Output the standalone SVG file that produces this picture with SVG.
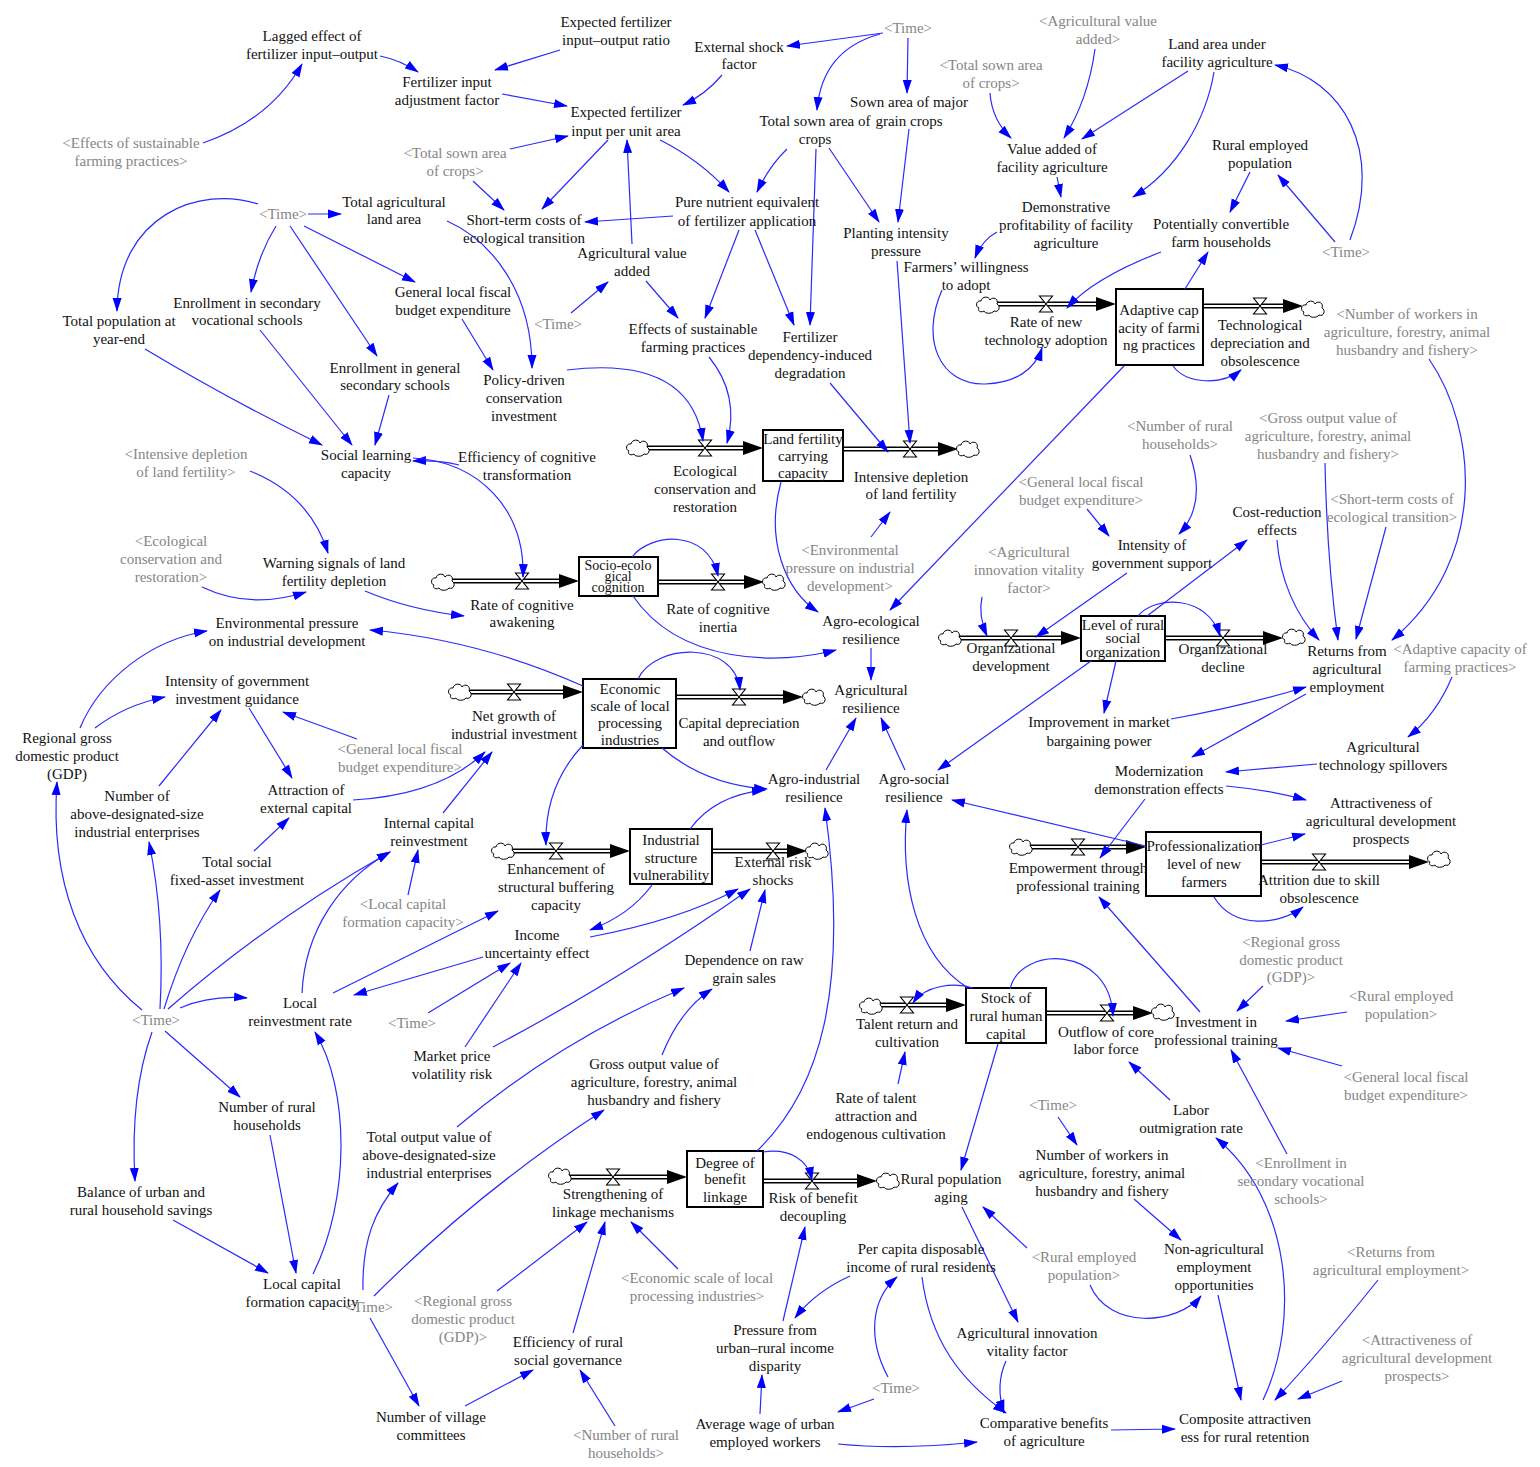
<svg xmlns="http://www.w3.org/2000/svg" width="1540" height="1467" viewBox="0 0 1540 1467">
<style>
.t{font-family:"Liberation Serif","Times New Roman",serif;font-size:15px;fill:#111;text-anchor:middle}
.g{font-family:"Liberation Serif","Times New Roman",serif;font-size:15px;fill:#858585;text-anchor:middle}
.c{fill:none;stroke:#2a2aff;stroke-width:1.2;marker-end:url(#ah)}
.po{stroke:#000;stroke-width:5;fill:none}
.pi{stroke:#fff;stroke-width:2.2;fill:none}
.fa{fill:#000}
.box{fill:#fff;stroke:#000;stroke-width:2}
</style>
<defs>
<marker id="ah" viewBox="0 0 14 10" refX="13" refY="5" markerWidth="14" markerHeight="10" markerUnits="userSpaceOnUse" orient="auto"><path d="M0,0.5 L14,5 L0,9.5 Z" fill="#0000ff"/></marker>
<g id="cloud"><path d="M-9,3 C-13,2 -12,-5 -7,-4 C-6,-9 1,-9 2,-5 C5,-9 11,-6 9,-1 C13,1 11,8 6,6 C4,9 -3,9 -4,6 C-7,8 -11,6 -9,3 Z" fill="#fff" stroke="#000" stroke-width="1"/></g>
<g id="valve"><path d="M-6.5,-8 H6.5 L-6.5,8 H6.5 Z" fill="#fff" stroke="#000" stroke-width="1.1"/></g>
</defs>
<rect width="1540" height="1467" fill="#fff"/>

<!-- flows (pipes, valves, clouds) -->
<g id="flows">
<g id="f-land">
<path class="po" d="M647,448 H745"/><path class="pi" d="M647,448 H745"/><polygon class="fa" points="743,441 763,448 743,455"/>
<path class="po" d="M843,449 H940"/><path class="pi" d="M843,449 H940"/><polygon class="fa" points="938,442 958,449 938,456"/>
<use href="#cloud" x="638" y="448"/><use href="#cloud" x="968" y="449"/>
<use href="#valve" x="705" y="448"/><use href="#valve" x="910" y="449"/>
</g>
<g id="f-adaptive">
<path class="po" d="M997,304 H1098"/><path class="pi" d="M997,304 H1098"/><polygon class="fa" points="1096,297 1116,304 1096,311"/>
<path class="po" d="M1203,306 H1285"/><path class="pi" d="M1203,306 H1285"/><polygon class="fa" points="1283,299 1303,306 1283,313"/>
<use href="#cloud" x="988" y="305"/><use href="#cloud" x="1313" y="309"/>
<use href="#valve" x="1046" y="304"/><use href="#valve" x="1260" y="306"/>
</g>
<g id="f-cognition">
<path class="po" d="M452,581 H561"/><path class="pi" d="M452,581 H561"/><polygon class="fa" points="559,574 579,581 559,588"/>
<path class="po" d="M658,582 H746"/><path class="pi" d="M658,582 H746"/><polygon class="fa" points="744,575 764,582 744,589"/>
<use href="#cloud" x="443" y="582"/><use href="#cloud" x="774" y="582"/>
<use href="#valve" x="522" y="581"/><use href="#valve" x="718" y="582"/>
</g>
<g id="f-econ">
<path class="po" d="M469,692 H565"/><path class="pi" d="M469,692 H565"/><polygon class="fa" points="563,685 583,692 563,699"/>
<path class="po" d="M676,697 H785"/><path class="pi" d="M676,697 H785"/><polygon class="fa" points="783,690 803,697 783,704"/>
<use href="#cloud" x="460" y="692"/><use href="#cloud" x="814" y="697"/>
<use href="#valve" x="514" y="692"/><use href="#valve" x="739" y="697"/>
</g>
<g id="f-org">
<path class="po" d="M959,638 H1063"/><path class="pi" d="M959,638 H1063"/><polygon class="fa" points="1061,631 1081,638 1061,645"/>
<path class="po" d="M1165,638 H1265"/><path class="pi" d="M1165,638 H1265"/><polygon class="fa" points="1263,631 1283,638 1263,645"/>
<use href="#cloud" x="950" y="638"/><use href="#cloud" x="1294" y="637"/>
<use href="#valve" x="1011" y="638"/><use href="#valve" x="1223" y="638"/>
</g>
<g id="f-ind">
<path class="po" d="M512,851 H612"/><path class="pi" d="M512,851 H612"/><polygon class="fa" points="610,844 630,851 610,858"/>
<path class="po" d="M712,851 H789"/><path class="pi" d="M712,851 H789"/><polygon class="fa" points="787,844 807,851 787,858"/>
<use href="#cloud" x="503" y="851"/><use href="#cloud" x="817" y="851"/>
<use href="#valve" x="556" y="851"/><use href="#valve" x="773" y="851"/>
</g>
<g id="f-prof">
<path class="po" d="M1030,847 H1128"/><path class="pi" d="M1030,847 H1128"/><polygon class="fa" points="1126,840 1146,847 1126,854"/>
<path class="po" d="M1261,862 H1411"/><path class="pi" d="M1261,862 H1411"/><polygon class="fa" points="1409,855 1429,862 1409,869"/>
<use href="#cloud" x="1021" y="847"/><use href="#cloud" x="1439" y="859"/>
<use href="#valve" x="1078" y="847"/><use href="#valve" x="1319" y="862"/>
</g>
<g id="f-benefit">
<path class="po" d="M569,1177 H669"/><path class="pi" d="M569,1177 H669"/><polygon class="fa" points="667,1170 687,1177 667,1184"/>
<path class="po" d="M763,1181 H859"/><path class="pi" d="M763,1181 H859"/><polygon class="fa" points="857,1174 877,1181 857,1188"/>
<use href="#cloud" x="560" y="1176"/><use href="#cloud" x="888" y="1181"/>
<use href="#valve" x="613" y="1177"/><use href="#valve" x="812" y="1181"/>
</g>
<g id="f-human">
<path class="po" d="M880,1005 H948"/><path class="pi" d="M880,1005 H948"/><polygon class="fa" points="946,998 966,1005 946,1012"/>
<path class="po" d="M1046,1013 H1135"/><path class="pi" d="M1046,1013 H1135"/><polygon class="fa" points="1133,1006 1153,1013 1133,1020"/>
<use href="#cloud" x="871" y="1006"/><use href="#cloud" x="1163" y="1012"/>
<use href="#valve" x="907" y="1005"/><use href="#valve" x="1107" y="1013"/>
</g>
</g>

<!-- stocks -->
<g id="s-land"><rect class="box" x="763" y="430" width="80" height="51"/><text class="t" x="803" y="444"><tspan x="803">Land fertility</tspan><tspan x="803" dy="17">carrying</tspan><tspan x="803" dy="17">capacity</tspan></text></g>
<g id="s-adaptive"><rect class="box" x="1116" y="289" width="87" height="76"/><text class="t" x="1159" y="315"><tspan x="1159">Adaptive cap</tspan><tspan x="1159" dy="18">acity of farmi</tspan><tspan x="1159" dy="17">ng practices</tspan></text></g>
<g id="s-cognition"><rect class="box" x="579" y="557" width="79" height="39"/><text class="t" x="618" y="570" style="font-size:14px"><tspan x="618">Socio-ecolo</tspan><tspan x="618" dy="11">gical</tspan><tspan x="618" dy="11">cognition</tspan></text></g>
<g id="s-econ"><rect class="box" x="583" y="679" width="93" height="69"/><text class="t" x="630" y="694"><tspan x="630">Economic</tspan><tspan x="630" dy="17">scale of local</tspan><tspan x="630" dy="17">processing</tspan><tspan x="630" dy="17">industries</tspan></text></g>
<g id="s-org"><rect class="box" x="1081" y="616" width="84" height="45"/><text class="t" x="1123" y="630"><tspan x="1123">Level of rural</tspan><tspan x="1123" dy="13">social</tspan><tspan x="1123" dy="14">organization</tspan></text></g>
<g id="s-ind"><rect class="box" x="630" y="829" width="82" height="55"/><text class="t" x="671" y="845"><tspan x="671">Industrial</tspan><tspan x="671" dy="18">structure</tspan><tspan x="671" dy="17">vulnerability</tspan></text></g>
<g id="s-prof"><rect class="box" x="1146" y="832" width="115" height="64"/><text class="t" x="1204" y="851"><tspan x="1204">Professionalization</tspan><tspan x="1204" dy="18">level of new</tspan><tspan x="1204" dy="18">farmers</tspan></text></g>
<g id="s-benefit"><rect class="box" x="687" y="1151" width="76" height="56"/><text class="t" x="725" y="1168"><tspan x="725">Degree of</tspan><tspan x="725" dy="16">benefit</tspan><tspan x="725" dy="18">linkage</tspan></text></g>
<g id="s-human"><rect class="box" x="966" y="988" width="80" height="55"/><text class="t" x="1006" y="1003"><tspan x="1006">Stock of</tspan><tspan x="1006" dy="18">rural human</tspan><tspan x="1006" dy="18">capital</tspan></text></g>

<!-- connectors -->
<g id="connectors">
<path class="c" d="M380,56 Q400,60 418,72"/>
<path class="c" d="M203,143 Q270,120 302,64"/>
<path class="c" d="M560,50 L495,70"/>
<path class="c" d="M502,94 L567,106"/>
<path class="c" d="M722,75 Q705,95 683,105"/>
<path class="c" d="M883,33 L787,46"/>
<path class="c" d="M510,149 L568,136"/>
<path class="c" d="M473,181 L504,210"/>
<path class="c" d="M608,140 L542,209"/>
<path class="c" d="M632,244 L627,140"/>
<path class="c" d="M660,140 Q700,160 729,192"/>
<path class="c" d="M673,216 L585,222"/>
<path class="c" d="M787,149 Q770,165 757,192"/>
<path class="c" d="M880,34 Q822,50 817,110"/>
<path class="c" d="M908,38 L907,93"/>
<path class="c" d="M816,149 Q813,240 810,325"/>
<path class="c" d="M829,148 L879,222"/>
<path class="c" d="M909,129 L898,222"/>
<path class="c" d="M739,230 L705,318"/>
<path class="c" d="M755,230 L794,325"/>
<path class="c" d="M646,281 L678,318"/>
<path class="c" d="M571,313 L608,282"/>
<path class="c" d="M447,221 C490,240 532,290 532,368"/>
<path class="c" d="M308,214 L341,214"/>
<path class="c" d="M258,204 C200,185 118,215 117,311"/>
<path class="c" d="M276,226 Q258,255 251,292"/>
<path class="c" d="M290,226 L377,356"/>
<path class="c" d="M304,226 L415,282"/>
<path class="c" d="M462,319 L493,370"/>
<path class="c" d="M145,349 Q230,400 322,445"/>
<path class="c" d="M260,330 L352,445"/>
<path class="c" d="M389,395 L375,445"/>
<path class="c" d="M459,465 Q440,460 413,461"/>
<path class="c" d="M413,458 C480,462 525,510 523,577"/>
<path class="c" d="M250,471 Q310,495 328,553"/>
<path class="c" d="M202,587 Q250,610 306,592"/>
<path class="c" d="M365,591 Q410,610 464,616"/>
<path class="c" d="M567,370 Q690,355 703,441"/>
<path class="c" d="M709,357 Q740,395 727,443"/>
<path class="c" d="M830,383 L888,452"/>
<path class="c" d="M897,261 L910,443"/>
<path class="c" d="M871,537 L890,512"/>
<path class="c" d="M781,482 C765,540 785,590 818,612"/>
<path class="c" d="M1124,366 L890,610"/>
<path class="c" d="M633,596 C680,665 780,665 836,650"/>
<path class="c" d="M632,557 C650,533 708,528 718,576"/>
<path class="c" d="M871,648 L871,680"/>
<path class="c" d="M826,770 L856,718"/>
<path class="c" d="M905,770 L881,718"/>
<path class="c" d="M638,679 C655,643 735,640 740,690"/>
<path class="c" d="M583,686 Q480,640 370,630"/>
<path class="c" d="M662,748 Q705,785 767,789"/>
<path class="c" d="M583,745 C555,775 545,810 546,845"/>
<path class="c" d="M690,829 Q715,795 765,790"/>
<path class="c" d="M652,885 Q630,915 590,930"/>
<path class="c" d="M590,937 Q680,920 738,889"/>
<path class="c" d="M493,1047 Q620,980 750,889"/>
<path class="c" d="M750,951 L765,890"/>
<path class="c" d="M465,1047 L521,963"/>
<path class="c" d="M428,1013 L510,963"/>
<path class="c" d="M483,957 L354,995"/>
<path class="c" d="M333,993 L498,911"/>
<path class="c" d="M302,993 C305,930 340,880 390,852"/>
<path class="c" d="M408,895 L418,850"/>
<path class="c" d="M443,813 L492,752"/>
<path class="c" d="M353,800 Q440,795 485,752"/>
<path class="c" d="M249,708 L292,778"/>
<path class="c" d="M357,739 L283,712"/>
<path class="c" d="M95,728 Q125,705 165,697"/>
<path class="c" d="M80,728 C100,680 150,640 207,631"/>
<path class="c" d="M159,786 L221,710"/>
<path class="c" d="M254,851 L289,818"/>
<path class="c" d="M142,1010 C80,960 50,880 57,782"/>
<path class="c" d="M160,1009 Q165,920 149,842"/>
<path class="c" d="M164,1009 Q185,940 220,890"/>
<path class="c" d="M168,1009 Q270,920 390,852"/>
<path class="c" d="M180,1008 Q210,995 247,998"/>
<path class="c" d="M165,1031 L240,1097"/>
<path class="c" d="M152,1032 C135,1080 132,1130 135,1181"/>
<path class="c" d="M270,1135 L296,1273"/>
<path class="c" d="M173,1220 L268,1273"/>
<path class="c" d="M313,1274 C350,1200 350,1090 315,1032"/>
<path class="c" d="M363,1290 C362,1240 375,1210 398,1183"/>
<path class="c" d="M374,1296 Q480,1190 604,1110"/>
<path class="c" d="M370,1318 L419,1406"/>
<path class="c" d="M457,1127 Q560,1040 684,988"/>
<path class="c" d="M662,1055 Q680,1010 712,989"/>
<path class="c" d="M757,1151 C820,1090 850,990 825,808"/>
<path class="c" d="M763,1152 C790,1148 808,1160 812,1180"/>
<path class="c" d="M497,1291 L587,1222"/>
<path class="c" d="M573,1333 L605,1222"/>
<path class="c" d="M678,1269 L631,1222"/>
<path class="c" d="M465,1406 L533,1370"/>
<path class="c" d="M615,1426 L580,1370"/>
<path class="c" d="M783,1321 L805,1227"/>
<path class="c" d="M850,1276 Q815,1292 795,1318"/>
<path class="c" d="M760,1414 L762,1375"/>
<path class="c" d="M874,1399 L838,1412"/>
<path class="c" d="M888,1377 C868,1340 870,1300 897,1277"/>
<path class="c" d="M838,1444 Q900,1450 977,1442"/>
<path class="c" d="M922,1277 C930,1340 960,1380 1006,1413"/>
<path class="c" d="M1006,1361 Q995,1385 1004,1413"/>
<path class="c" d="M962,1207 L1018,1322"/>
<path class="c" d="M1027,1248 L983,1207"/>
<path class="c" d="M998,1044 L961,1170"/>
<path class="c" d="M1111,1430 L1175,1429"/>
<path class="c" d="M1218,1295 L1241,1400"/>
<path class="c" d="M1090,1285 C1109,1330 1177,1325 1201,1296"/>
<path class="c" d="M1134,1199 L1181,1240"/>
<path class="c" d="M1058,1117 L1077,1145"/>
<path class="c" d="M1378,1280 Q1322,1350 1275,1400"/>
<path class="c" d="M1342,1381 L1298,1399"/>
<path class="c" d="M1263,1400 C1301,1320 1291,1200 1216,1138"/>
<path class="c" d="M1170,1100 L1129,1062"/>
<path class="c" d="M1287,1154 L1231,1050"/>
<path class="c" d="M1342,1066 L1278,1048"/>
<path class="c" d="M1347,1012 L1286,1021"/>
<path class="c" d="M1263,986 L1237,1011"/>
<path class="c" d="M1200,1012 L1099,897"/>
<path class="c" d="M973,988 C955,982 925,985 913,1003"/>
<path class="c" d="M1010,989 C1020,945 1110,945 1113,1016"/>
<path class="c" d="M898,1084 L905,1052"/>
<path class="c" d="M968,988 C915,955 900,880 907,810"/>
<path class="c" d="M1146,846 L952,800"/>
<path class="c" d="M1091,661 L938,770"/>
<path class="c" d="M1116,661 L1104,713"/>
<path class="c" d="M1147,616 L1247,540"/>
<path class="c" d="M1138,616 C1155,595 1208,595 1220,636"/>
<path class="c" d="M1127,573 L1036,637"/>
<path class="c" d="M1087,509 L1109,536"/>
<path class="c" d="M1190,455 C1202,490 1197,515 1179,534"/>
<path class="c" d="M982,597 Q978,615 987,636"/>
<path class="c" d="M1277,540 C1280,580 1296,615 1319,640"/>
<path class="c" d="M1325,463 Q1327,560 1338,640"/>
<path class="c" d="M1386,527 L1356,639"/>
<path class="c" d="M1429,359 C1478,430 1488,560 1392,640"/>
<path class="c" d="M1171,719 Q1239,707 1306,687"/>
<path class="c" d="M1306,694 L1192,757"/>
<path class="c" d="M1452,677 Q1436,715 1408,737"/>
<path class="c" d="M1317,764 L1226,772"/>
<path class="c" d="M1226,786 Q1270,790 1306,800"/>
<path class="c" d="M1261,845 L1305,834"/>
<path class="c" d="M1145,799 L1100,858"/>
<path class="c" d="M1214,897 C1234,930 1280,925 1303,907"/>
<path class="c" d="M1173,366 C1187,385 1223,385 1241,370"/>
<path class="c" d="M1185,289 L1208,252"/>
<path class="c" d="M1161,252 C1114,270 1083,290 1067,308"/>
<path class="c" d="M942,290 C920,340 940,385 985,384 C1015,383 1035,370 1042,348"/>
<path class="c" d="M997,232 Q982,240 975,258"/>
<path class="c" d="M1057,177 L1061,197"/>
<path class="c" d="M1188,71 L1082,139"/>
<path class="c" d="M1214,72 C1206,120 1177,170 1133,197"/>
<path class="c" d="M1095,49 Q1088,100 1064,138"/>
<path class="c" d="M990,93 Q992,120 1011,138"/>
<path class="c" d="M1250,172 L1230,212"/>
<path class="c" d="M1335,242 L1278,175"/>
<path class="c" d="M1350,240 C1384,150 1343,80 1275,65"/>
</g>

<!-- flow labels -->
<g id="fl-eco"><text class="t" x="705" y="476"><tspan x="705">Ecological</tspan><tspan x="705" dy="18">conservation and</tspan><tspan x="705" dy="18">restoration</tspan></text></g>
<g id="fl-intensive"><text class="t" x="911" y="482"><tspan x="911">Intensive depletion</tspan><tspan x="911" dy="17">of land fertility</tspan></text></g>
<g id="fl-newtech"><text class="t" x="1046" y="327"><tspan x="1046">Rate of new</tspan><tspan x="1046" dy="18">technology adoption</tspan></text></g>
<g id="fl-techdep"><text class="t" x="1260" y="330"><tspan x="1260">Technological</tspan><tspan x="1260" dy="18">depreciation and</tspan><tspan x="1260" dy="18">obsolescence</tspan></text></g>
<g id="fl-awaken"><text class="t" x="522" y="610"><tspan x="522">Rate of cognitive</tspan><tspan x="522" dy="17">awakening</tspan></text></g>
<g id="fl-inertia"><text class="t" x="718" y="614"><tspan x="718">Rate of cognitive</tspan><tspan x="718" dy="18">inertia</tspan></text></g>
<g id="fl-netgrowth"><text class="t" x="514" y="721"><tspan x="514">Net growth of</tspan><tspan x="514" dy="18">industrial investment</tspan></text></g>
<g id="fl-capdep"><text class="t" x="739" y="728"><tspan x="739">Capital depreciation</tspan><tspan x="739" dy="18">and outflow</tspan></text></g>
<g id="fl-orgdev"><text class="t" x="1011" y="653"><tspan x="1011">Organizational</tspan><tspan x="1011" dy="18">development</tspan></text></g>
<g id="fl-orgdec"><text class="t" x="1223" y="654"><tspan x="1223">Organizational</tspan><tspan x="1223" dy="18">decline</tspan></text></g>
<g id="fl-enh"><text class="t" x="556" y="874"><tspan x="556">Enhancement of</tspan><tspan x="556" dy="18">structural buffering</tspan><tspan x="556" dy="18">capacity</tspan></text></g>
<g id="fl-extrisk"><text class="t" x="773" y="867"><tspan x="773">External risk</tspan><tspan x="773" dy="18">shocks</tspan></text></g>
<g id="fl-empower"><text class="t" x="1078" y="873"><tspan x="1078">Empowerment through</tspan><tspan x="1078" dy="18">professional training</tspan></text></g>
<g id="fl-attrition"><text class="t" x="1319" y="885"><tspan x="1319">Attrition due to skill</tspan><tspan x="1319" dy="18">obsolescence</tspan></text></g>
<g id="fl-strength"><text class="t" x="613" y="1199"><tspan x="613">Strengthening of</tspan><tspan x="613" dy="18">linkage mechanisms</tspan></text></g>
<g id="fl-risk"><text class="t" x="813" y="1203"><tspan x="813">Risk of benefit</tspan><tspan x="813" dy="18">decoupling</tspan></text></g>
<g id="fl-talent"><text class="t" x="907" y="1029"><tspan x="907">Talent return and</tspan><tspan x="907" dy="18">cultivation</tspan></text></g>
<g id="fl-outflow"><text class="t" x="1106" y="1037"><tspan x="1106">Outflow of core</tspan><tspan x="1106" dy="17">labor force</tspan></text></g>

<!-- variable nodes -->
<g id="n-lagged"><text class="t" x="312" y="41"><tspan x="312">Lagged effect of</tspan><tspan x="312" dy="18">fertilizer input–output</tspan></text></g>
<g id="n-effects-sh"><text class="g" x="131" y="148"><tspan x="131">&lt;Effects of sustainable</tspan><tspan x="131" dy="18">farming practices&gt;</tspan></text></g>
<g id="n-fertadj"><text class="t" x="447" y="87"><tspan x="447">Fertilizer input</tspan><tspan x="447" dy="18">adjustment factor</tspan></text></g>
<g id="n-expratio"><text class="t" x="616" y="27"><tspan x="616">Expected fertilizer</tspan><tspan x="616" dy="18">input–output ratio</tspan></text></g>
<g id="n-extshock"><text class="t" x="739" y="52"><tspan x="739">External shock</tspan><tspan x="739" dy="17">factor</tspan></text></g>
<g id="n-time1"><text class="g" x="908" y="33">&lt;Time&gt;</text></g>
<g id="n-expunit"><text class="t" x="626" y="117"><tspan x="626">Expected fertilizer</tspan><tspan x="626" dy="19">input per unit area</tspan></text></g>
<g id="n-tsa-sh1"><text class="g" x="455" y="158"><tspan x="455">&lt;Total sown area</tspan><tspan x="455" dy="18">of crops&gt;</tspan></text></g>
<g id="n-totalsown"><text class="t" x="815" y="126"><tspan x="815">Total sown area of</tspan><tspan x="815" dy="18">crops</tspan></text></g>
<g id="n-sowngrain"><text class="t" x="909" y="107"><tspan x="909">Sown area of major</tspan><tspan x="909" dy="19">grain crops</tspan></text></g>
<g id="n-tsa-sh2"><text class="g" x="991" y="70"><tspan x="991">&lt;Total sown area</tspan><tspan x="991" dy="18">of crops&gt;</tspan></text></g>
<g id="n-agva-sh"><text class="g" x="1098" y="26"><tspan x="1098">&lt;Agricultural value</tspan><tspan x="1098" dy="18">added&gt;</tspan></text></g>
<g id="n-landfac"><text class="t" x="1217" y="49"><tspan x="1217">Land area under</tspan><tspan x="1217" dy="18">facility agriculture</tspan></text></g>
<g id="n-vafac"><text class="t" x="1052" y="154"><tspan x="1052">Value added of</tspan><tspan x="1052" dy="18">facility agriculture</tspan></text></g>
<g id="n-ruralemp"><text class="t" x="1260" y="150"><tspan x="1260">Rural employed</tspan><tspan x="1260" dy="18">population</tspan></text></g>
<g id="n-demo"><text class="t" x="1066" y="212"><tspan x="1066">Demonstrative</tspan><tspan x="1066" dy="18">profitability of facility</tspan><tspan x="1066" dy="18">agriculture</tspan></text></g>
<g id="n-potential"><text class="t" x="1221" y="229"><tspan x="1221">Potentially convertible</tspan><tspan x="1221" dy="18">farm households</tspan></text></g>
<g id="n-time2"><text class="g" x="1346" y="257">&lt;Time&gt;</text></g>
<g id="n-time3"><text class="g" x="283" y="219">&lt;Time&gt;</text></g>
<g id="n-totalland"><text class="t" x="394" y="207"><tspan x="394">Total agricultural</tspan><tspan x="394" dy="17">land area</tspan></text></g>
<g id="n-shortterm"><text class="t" x="524" y="225"><tspan x="524">Short-term costs of</tspan><tspan x="524" dy="18">ecological transition</tspan></text></g>
<g id="n-purenut"><text class="t" x="747" y="207"><tspan x="747">Pure nutrient equivalent</tspan><tspan x="747" dy="19">of fertilizer application</tspan></text></g>
<g id="n-agva"><text class="t" x="632" y="258"><tspan x="632">Agricultural value</tspan><tspan x="632" dy="18">added</tspan></text></g>
<g id="n-planting"><text class="t" x="896" y="238"><tspan x="896">Planting intensity</tspan><tspan x="896" dy="18">pressure</tspan></text></g>
<g id="n-farmers"><text class="t" x="966" y="272"><tspan x="966">Farmers’ willingness</tspan><tspan x="966" dy="18">to adopt</tspan></text></g>
<g id="n-enrollvoc"><text class="t" x="247" y="308"><tspan x="247">Enrollment in secondary</tspan><tspan x="247" dy="17">vocational schools</tspan></text></g>
<g id="n-totalpop"><text class="t" x="119" y="326"><tspan x="119">Total population at</tspan><tspan x="119" dy="18">year-end</tspan></text></g>
<g id="n-glf"><text class="t" x="453" y="297"><tspan x="453">General local fiscal</tspan><tspan x="453" dy="18">budget expenditure</tspan></text></g>
<g id="n-time4"><text class="g" x="558" y="329">&lt;Time&gt;</text></g>
<g id="n-effects"><text class="t" x="693" y="334"><tspan x="693">Effects of sustainable</tspan><tspan x="693" dy="18">farming practices</tspan></text></g>
<g id="n-fertdep"><text class="t" x="810" y="342"><tspan x="810">Fertilizer</tspan><tspan x="810" dy="18">dependency-induced</tspan><tspan x="810" dy="18">degradation</tspan></text></g>
<g id="n-enrollgen"><text class="t" x="395" y="373"><tspan x="395">Enrollment in general</tspan><tspan x="395" dy="17">secondary schools</tspan></text></g>
<g id="n-policy"><text class="t" x="524" y="385"><tspan x="524">Policy-driven</tspan><tspan x="524" dy="18">conservation</tspan><tspan x="524" dy="18">investment</tspan></text></g>
<g id="n-social"><text class="t" x="366" y="460"><tspan x="366">Social learning</tspan><tspan x="366" dy="18">capacity</tspan></text></g>
<g id="n-intensive-sh"><text class="g" x="186" y="459"><tspan x="186">&lt;Intensive depletion</tspan><tspan x="186" dy="18">of land fertility&gt;</tspan></text></g>
<g id="n-effcog"><text class="t" x="527" y="462"><tspan x="527">Efficiency of cognitive</tspan><tspan x="527" dy="18">transformation</tspan></text></g>
<g id="n-workers-sh"><text class="g" x="1407" y="319"><tspan x="1407">&lt;Number of workers in</tspan><tspan x="1407" dy="18">agriculture, forestry, animal</tspan><tspan x="1407" dy="18">husbandry and fishery&gt;</tspan></text></g>
<g id="n-ruralhh-sh1"><text class="g" x="1180" y="431"><tspan x="1180">&lt;Number of rural</tspan><tspan x="1180" dy="18">households&gt;</tspan></text></g>
<g id="n-gross-sh"><text class="g" x="1328" y="423"><tspan x="1328">&lt;Gross output value of</tspan><tspan x="1328" dy="18">agriculture, forestry, animal</tspan><tspan x="1328" dy="18">husbandry and fishery&gt;</tspan></text></g>
<g id="n-glf-sh1"><text class="g" x="1081" y="487"><tspan x="1081">&lt;General local fiscal</tspan><tspan x="1081" dy="18">budget expenditure&gt;</tspan></text></g>
<g id="n-costred"><text class="t" x="1277" y="517"><tspan x="1277">Cost-reduction</tspan><tspan x="1277" dy="18">effects</tspan></text></g>
<g id="n-st-sh"><text class="g" x="1392" y="504"><tspan x="1392">&lt;Short-term costs of</tspan><tspan x="1392" dy="18">ecological transition&gt;</tspan></text></g>
<g id="n-intgov"><text class="t" x="1152" y="550"><tspan x="1152">Intensity of</tspan><tspan x="1152" dy="18">government support</tspan></text></g>
<g id="n-innov-sh"><text class="g" x="1029" y="557"><tspan x="1029">&lt;Agricultural</tspan><tspan x="1029" dy="18">innovation vitality</tspan><tspan x="1029" dy="18">factor&gt;</tspan></text></g>
<g id="n-env-sh"><text class="g" x="850" y="555"><tspan x="850">&lt;Environmental</tspan><tspan x="850" dy="18">pressure on industrial</tspan><tspan x="850" dy="18">development&gt;</tspan></text></g>
<g id="n-eco-sh"><text class="g" x="171" y="546"><tspan x="171">&lt;Ecological</tspan><tspan x="171" dy="18">conservation and</tspan><tspan x="171" dy="18">restoration&gt;</tspan></text></g>
<g id="n-warning"><text class="t" x="334" y="568"><tspan x="334">Warning signals of land</tspan><tspan x="334" dy="18">fertility depletion</tspan></text></g>
<g id="n-agroeco"><text class="t" x="871" y="626"><tspan x="871">Agro-ecological</tspan><tspan x="871" dy="18">resilience</tspan></text></g>
<g id="n-envpress"><text class="t" x="287" y="628"><tspan x="287">Environmental pressure</tspan><tspan x="287" dy="18">on industrial development</tspan></text></g>
<g id="n-returns"><text class="t" x="1347" y="656"><tspan x="1347">Returns from</tspan><tspan x="1347" dy="18">agricultural</tspan><tspan x="1347" dy="18">employment</tspan></text></g>
<g id="n-adaptive-sh"><text class="g" x="1460" y="654"><tspan x="1460">&lt;Adaptive capacity of</tspan><tspan x="1460" dy="18">farming practices&gt;</tspan></text></g>
<g id="n-intgovinv"><text class="t" x="237" y="686"><tspan x="237">Intensity of government</tspan><tspan x="237" dy="18">investment guidance</tspan></text></g>
<g id="n-agrires"><text class="t" x="871" y="695"><tspan x="871">Agricultural</tspan><tspan x="871" dy="18">resilience</tspan></text></g>
<g id="n-gdp"><text class="t" x="67" y="743"><tspan x="67">Regional gross</tspan><tspan x="67" dy="18">domestic product</tspan><tspan x="67" dy="18">(GDP)</tspan></text></g>
<g id="n-glf-sh2"><text class="g" x="400" y="754"><tspan x="400">&lt;General local fiscal</tspan><tspan x="400" dy="18">budget expenditure&gt;</tspan></text></g>
<g id="n-improve"><text class="t" x="1099" y="727"><tspan x="1099">Improvement in market</tspan><tspan x="1099" dy="19">bargaining power</tspan></text></g>
<g id="n-agritech"><text class="t" x="1383" y="752"><tspan x="1383">Agricultural</tspan><tspan x="1383" dy="18">technology spillovers</tspan></text></g>
<g id="n-modern"><text class="t" x="1159" y="776"><tspan x="1159">Modernization</tspan><tspan x="1159" dy="18">demonstration effects</tspan></text></g>
<g id="n-agroind"><text class="t" x="814" y="784"><tspan x="814">Agro-industrial</tspan><tspan x="814" dy="18">resilience</tspan></text></g>
<g id="n-agrosoc"><text class="t" x="914" y="784"><tspan x="914">Agro-social</tspan><tspan x="914" dy="18">resilience</tspan></text></g>
<g id="n-attraction"><text class="t" x="306" y="795"><tspan x="306">Attraction of</tspan><tspan x="306" dy="18">external capital</tspan></text></g>
<g id="n-numabove"><text class="t" x="137" y="801"><tspan x="137">Number of</tspan><tspan x="137" dy="18">above-designated-size</tspan><tspan x="137" dy="18">industrial enterprises</tspan></text></g>
<g id="n-attractive"><text class="t" x="1381" y="808"><tspan x="1381">Attractiveness of</tspan><tspan x="1381" dy="18">agricultural development</tspan><tspan x="1381" dy="18">prospects</tspan></text></g>
<g id="n-internal"><text class="t" x="429" y="828"><tspan x="429">Internal capital</tspan><tspan x="429" dy="18">reinvestment</tspan></text></g>
<g id="n-totalsocial"><text class="t" x="237" y="867"><tspan x="237">Total social</tspan><tspan x="237" dy="18">fixed-asset investment</tspan></text></g>
<g id="n-localcap-sh"><text class="g" x="403" y="909"><tspan x="403">&lt;Local capital</tspan><tspan x="403" dy="18">formation capacity&gt;</tspan></text></g>
<g id="n-income"><text class="t" x="537" y="940"><tspan x="537">Income</tspan><tspan x="537" dy="18">uncertainty effect</tspan></text></g>
<g id="n-gdp-sh1"><text class="g" x="1291" y="947"><tspan x="1291">&lt;Regional gross</tspan><tspan x="1291" dy="18">domestic product</tspan><tspan x="1291" dy="17">(GDP)&gt;</tspan></text></g>
<g id="n-dependence"><text class="t" x="744" y="965"><tspan x="744">Dependence on raw</tspan><tspan x="744" dy="18">grain sales</tspan></text></g>
<g id="n-time5"><text class="g" x="156" y="1025">&lt;Time&gt;</text></g>
<g id="n-localreinv"><text class="t" x="300" y="1008"><tspan x="300">Local</tspan><tspan x="300" dy="18">reinvestment rate</tspan></text></g>
<g id="n-time6"><text class="g" x="412" y="1028">&lt;Time&gt;</text></g>
<g id="n-market"><text class="t" x="452" y="1061"><tspan x="452">Market price</tspan><tspan x="452" dy="18">volatility risk</tspan></text></g>
<g id="n-gross"><text class="t" x="654" y="1069"><tspan x="654">Gross output value of</tspan><tspan x="654" dy="18">agriculture, forestry, animal</tspan><tspan x="654" dy="18">husbandry and fishery</tspan></text></g>
<g id="n-ratetalent"><text class="t" x="876" y="1103"><tspan x="876">Rate of talent</tspan><tspan x="876" dy="18">attraction and</tspan><tspan x="876" dy="18">endogenous cultivation</tspan></text></g>
<g id="n-ruralemp-sh1"><text class="g" x="1401" y="1001"><tspan x="1401">&lt;Rural employed</tspan><tspan x="1401" dy="18">population&gt;</tspan></text></g>
<g id="n-investprof"><text class="t" x="1216" y="1027"><tspan x="1216">Investment in</tspan><tspan x="1216" dy="18">professional training</tspan></text></g>
<g id="n-glf-sh3"><text class="g" x="1406" y="1082"><tspan x="1406">&lt;General local fiscal</tspan><tspan x="1406" dy="18">budget expenditure&gt;</tspan></text></g>
<g id="n-time7"><text class="g" x="1053" y="1110">&lt;Time&gt;</text></g>
<g id="n-laborout"><text class="t" x="1191" y="1115"><tspan x="1191">Labor</tspan><tspan x="1191" dy="18">outmigration rate</tspan></text></g>
<g id="n-ruralhh"><text class="t" x="267" y="1112"><tspan x="267">Number of rural</tspan><tspan x="267" dy="18">households</tspan></text></g>
<g id="n-totaloutput"><text class="t" x="429" y="1142"><tspan x="429">Total output value of</tspan><tspan x="429" dy="18">above-designated-size</tspan><tspan x="429" dy="18">industrial enterprises</tspan></text></g>
<g id="n-workers"><text class="t" x="1102" y="1160"><tspan x="1102">Number of workers in</tspan><tspan x="1102" dy="18">agriculture, forestry, animal</tspan><tspan x="1102" dy="18">husbandry and fishery</tspan></text></g>
<g id="n-enroll-sh"><text class="g" x="1301" y="1168"><tspan x="1301">&lt;Enrollment in</tspan><tspan x="1301" dy="18">secondary vocational</tspan><tspan x="1301" dy="18">schools&gt;</tspan></text></g>
<g id="n-aging"><text class="t" x="951" y="1184"><tspan x="951">Rural population</tspan><tspan x="951" dy="18">aging</tspan></text></g>
<g id="n-balance"><text class="t" x="141" y="1197"><tspan x="141">Balance of urban and</tspan><tspan x="141" dy="18">rural household savings</tspan></text></g>
<g id="n-percapita"><text class="t" x="921" y="1254"><tspan x="921">Per capita disposable</tspan><tspan x="921" dy="18">income of rural residents</tspan></text></g>
<g id="n-ruralemp-sh2"><text class="g" x="1084" y="1262"><tspan x="1084">&lt;Rural employed</tspan><tspan x="1084" dy="18">population&gt;</tspan></text></g>
<g id="n-nonagri"><text class="t" x="1214" y="1254"><tspan x="1214">Non-agricultural</tspan><tspan x="1214" dy="18">employment</tspan><tspan x="1214" dy="18">opportunities</tspan></text></g>
<g id="n-returns-sh"><text class="g" x="1391" y="1257"><tspan x="1391">&lt;Returns from</tspan><tspan x="1391" dy="18">agricultural employment&gt;</tspan></text></g>
<g id="n-econ-sh"><text class="g" x="697" y="1283"><tspan x="697">&lt;Economic scale of local</tspan><tspan x="697" dy="18">processing industries&gt;</tspan></text></g>
<g id="n-localcap"><text class="t" x="302" y="1289"><tspan x="302">Local capital</tspan><tspan x="302" dy="18">formation capacity</tspan></text></g>
<g id="n-time8"><text class="g" x="369" y="1312">&lt;Time&gt;</text></g>
<g id="n-gdp-sh2"><text class="g" x="463" y="1306"><tspan x="463">&lt;Regional gross</tspan><tspan x="463" dy="18">domestic product</tspan><tspan x="463" dy="18">(GDP)&gt;</tspan></text></g>
<g id="n-pressure"><text class="t" x="775" y="1335"><tspan x="775">Pressure from</tspan><tspan x="775" dy="18">urban–rural income</tspan><tspan x="775" dy="18">disparity</tspan></text></g>
<g id="n-innov"><text class="t" x="1027" y="1338"><tspan x="1027">Agricultural innovation</tspan><tspan x="1027" dy="18">vitality factor</tspan></text></g>
<g id="n-attract-sh"><text class="g" x="1417" y="1345"><tspan x="1417">&lt;Attractiveness of</tspan><tspan x="1417" dy="18">agricultural development</tspan><tspan x="1417" dy="18">prospects&gt;</tspan></text></g>
<g id="n-effgov"><text class="t" x="568" y="1347"><tspan x="568">Efficiency of rural</tspan><tspan x="568" dy="18">social governance</tspan></text></g>
<g id="n-time9"><text class="g" x="896" y="1393">&lt;Time&gt;</text></g>
<g id="n-village"><text class="t" x="431" y="1422"><tspan x="431">Number of village</tspan><tspan x="431" dy="18">committees</tspan></text></g>
<g id="n-avgwage"><text class="t" x="765" y="1429"><tspan x="765">Average wage of urban</tspan><tspan x="765" dy="18">employed workers</tspan></text></g>
<g id="n-comparative"><text class="t" x="1044" y="1428"><tspan x="1044">Comparative benefits</tspan><tspan x="1044" dy="18">of agriculture</tspan></text></g>
<g id="n-composite"><text class="t" x="1245" y="1424"><tspan x="1245">Composite attractiven</tspan><tspan x="1245" dy="18">ess for rural retention</tspan></text></g>
<g id="n-ruralhh-sh2"><text class="g" x="626" y="1440"><tspan x="626">&lt;Number of rural</tspan><tspan x="626" dy="18">households&gt;</tspan></text></g>
</svg>
